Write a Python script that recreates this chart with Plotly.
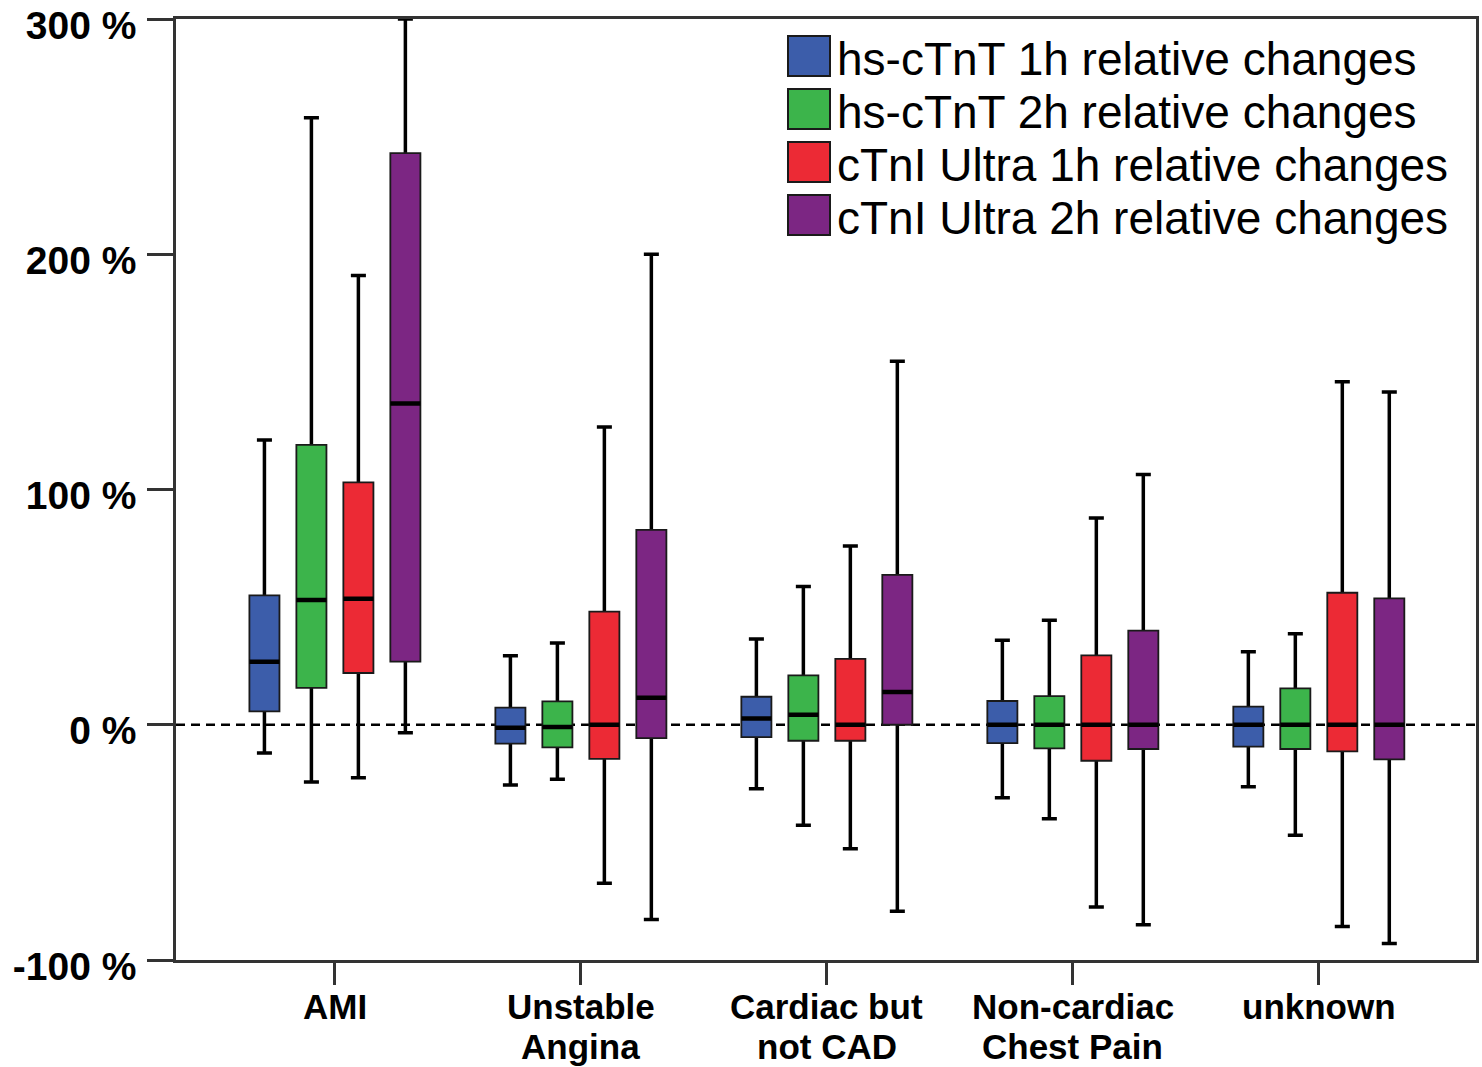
import plotly.graph_objects as go

# ---------------- data ----------------
categories = ["AMI", "Unstable Angina", "Cardiac but not CAD", "Non-cardiac Chest Pain", "unknown"]
category_labels = ["AMI", "Unstable<br>Angina", "Cardiac but<br>not CAD", "Non-cardiac<br>Chest Pain", "unknown"]

series_names = [
    "hs-cTnT 1h relative changes",
    "hs-cTnT 2h relative changes",
    "cTnI Ultra 1h relative changes",
    "cTnI Ultra 2h relative changes",
]
series_colors = ["#3c5daa", "#3cb44b", "#ec2a35", "#7c2683"]

# five-number summaries (percent), one value per category
tnt1h_low = [-12, -25.6, -27.2, -31, -26.4]
tnt1h_q1 = [5.7, -8, -5.3, -7.8, -9.3]
tnt1h_med = [26.8, -1.3, 2.7, 0, 0]
tnt1h_q3 = [55, 7.3, 11.9, 10.1, 7.7]
tnt1h_high = [121, 29.3, 36.5, 35.9, 31]

tnt2h_low = [-24.3, -23.2, -42.7, -40, -47]
tnt2h_q1 = [15.7, -9.6, -6.8, -10, -10.3]
tnt2h_med = [53, -1, 4.3, 0, 0]
tnt2h_q3 = [119, 9.9, 21, 12.2, 15.5]
tnt2h_high = [258, 34.7, 58.8, 44.4, 38.7]

tni1h_low = [-22.5, -67.4, -52.7, -77.5, -85.8]
tni1h_q1 = [22, -14.5, -6.8, -15.3, -11.3]
tni1h_med = [53.6, 0, 0, 0, 0]
tni1h_q3 = [103, 48.1, 28, 29.5, 56.1]
tni1h_high = [191, 126.6, 76, 87.9, 145.8]

tni2h_low = [-3.4, -82.8, -79.3, -85, -93]
tni2h_q1 = [26.8, -5.7, 0, -10.3, -14.7]
tni2h_med = [136.6, 11.5, 13.9, 0, 0]
tni2h_q3 = [243, 82.8, 63.7, 40, 53.7]
tni2h_high = [300, 200, 154.5, 106.4, 141.4]

y_tickvals = [-100, 0, 100, 200, 300]
y_ticktext = ["-100 %", "0 %", "100 %", "200 %", "300 %"]

stats = [
    (tnt1h_low, tnt1h_q1, tnt1h_med, tnt1h_q3, tnt1h_high),
    (tnt2h_low, tnt2h_q1, tnt2h_med, tnt2h_q3, tnt2h_high),
    (tni1h_low, tni1h_q1, tni1h_med, tni1h_q3, tni1h_high),
    (tni2h_low, tni2h_q1, tni2h_med, tni2h_q3, tni2h_high),
]

# ---------------- figure ----------------
W, H = 1482, 1067
L, R, T, B = 176, 6, 19, 107
FONT = "Liberation Sans, Arial, sans-serif"

fig = go.Figure()

common = dict(x=categories, boxpoints=False, alignmentgroup="all", hoverinfo="skip", showlegend=False)

# layer A: whiskers (thick black)
for name, (lo, q1, md, q3, hi) in zip(series_names, stats):
    fig.add_trace(go.Box(
        name=name, offsetgroup=name, q1=md, median=md, q3=md,
        lowerfence=lo, upperfence=hi, whiskerwidth=0.5,
        line=dict(color="black", width=3.5), fillcolor="black", **common))

# layer B: coloured boxes
for name, color, (lo, q1, md, q3, hi) in zip(series_names, series_colors, stats):
    fig.add_trace(go.Box(
        name=name, offsetgroup=name, q1=q1, median=md, q3=q3,
        lowerfence=q1, upperfence=q3, whiskerwidth=0,
        line=dict(color="#1a1a1a", width=1.8), fillcolor=color, **common))

# layer C: thick medians
for name, (lo, q1, md, q3, hi) in zip(series_names, stats):
    fig.add_trace(go.Box(
        name=name, offsetgroup=name, q1=md, median=md, q3=md,
        lowerfence=md, upperfence=md, whiskerwidth=0,
        line=dict(color="black", width=4.5), fillcolor="black", **common))

# zero reference line
fig.add_shape(type="line", xref="paper", yref="y", x0=0, x1=1, y0=0, y1=0,
              line=dict(color="black", width=2.5, dash="9px,6px"), layer="below")

pw, ph = W - L - R, H - T - B
def px_x(x):
    return (x - L) / pw
def px_y(y):
    return (H - B - y) / ph

# manual legend (large swatches)
legend_rows = [56, 109, 162, 215]
for name, color, yc in zip(series_names, series_colors, legend_rows):
    fig.add_shape(type="rect", xref="paper", yref="paper",
                  x0=px_x(788), x1=px_x(830), y0=px_y(yc + 20), y1=px_y(yc - 20),
                  fillcolor=color, line=dict(color="#1a1a1a", width=2))
    fig.add_annotation(xref="paper", yref="paper", x=px_x(835), y=px_y(yc + 3),
                       text=name, showarrow=False, xanchor="left", yanchor="middle",
                       font=dict(family=FONT, size=46, color="black"))

# category labels (two tightly spaced lines, as in the original)
line_centers = [1006, 1046]
for cat, lab in zip(categories, category_labels):
    for line_text, yc in zip(lab.split("<br>"), line_centers):
        fig.add_annotation(xref="x", yref="paper", x=cat, y=px_y(yc),
                           text=line_text, showarrow=False, xanchor="center", yanchor="middle",
                           font=dict(family=FONT, size=35, color="black", weight="bold"))

fig.update_layout(
    width=W, height=H,
    margin=dict(l=L, r=R, t=T, b=B, pad=0, autoexpand=False),
    paper_bgcolor="white", plot_bgcolor="white",
    boxmode="group", boxgroupgap=0.36, boxgap=0.236,
    showlegend=False,
    font=dict(family=FONT, color="black"),
)

fig.update_xaxes(
    type="category", categoryorder="array", categoryarray=categories,
    tickmode="array", tickvals=categories, showticklabels=False,
    range=[-0.646, 4.639], automargin=False,
    showline=True, mirror=True, linecolor="#333333", linewidth=2.5,
    ticks="outside", ticklen=22, tickwidth=2.5, tickcolor="#333333",
    showgrid=False, zeroline=False,
)
fig.update_yaxes(
    range=[-100, 300], tickvals=y_tickvals, ticktext=y_ticktext,
    automargin=False, ticklabeloverflow="allow",
    showline=True, mirror=True, linecolor="#333333", linewidth=2.5,
    ticks="outside", ticklen=26, tickwidth=2.5, tickcolor="#333333",
    showgrid=False, zeroline=False, ticklabelstandoff=3, ticklabelshift=6,
    tickfont=dict(family=FONT, size=39, color="black", weight="bold"),
)

fig.write_html("out.html")
